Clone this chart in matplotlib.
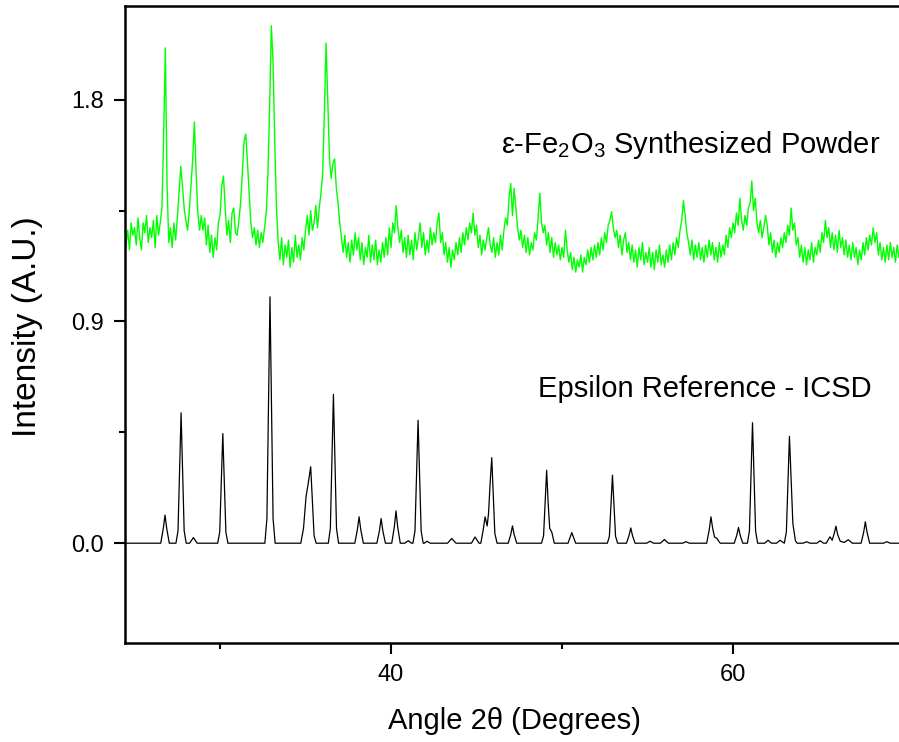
import numpy as np
import matplotlib
matplotlib.use("Agg")
import matplotlib.pyplot as plt
from matplotlib.ticker import FixedLocator, FormatStrFormatter

plt.rcParams['font.family'] = ['Liberation Sans', 'DejaVu Sans']
plt.rcParams['mathtext.fontset'] = 'custom'
plt.rcParams['mathtext.rm'] = 'Liberation Sans'
plt.rcParams['mathtext.it'] = 'Liberation Sans:italic'
plt.rcParams['mathtext.bf'] = 'Liberation Sans:bold'

# ---------------- data ----------------
# Synthesized powder: intensity sampled every 0.1 deg starting at 24.0 deg
powder_start = 24.0
powder_step = 0.1
powder_intensity = [
    1.26, 1.31, 1.22, 1.29, 1.33, 1.21, 1.27, 1.19, 1.30, 1.25,   # 24
    1.28, 1.21, 1.32, 1.24, 1.19, 1.30, 1.26, 1.33, 1.22, 1.28,   # 25
    1.24, 1.31, 1.20, 1.33, 1.25, 1.30, 1.36, 1.65, 2.01, 1.45,   # 26
    1.22, 1.28, 1.20, 1.30, 1.23, 1.32, 1.42, 1.53, 1.45, 1.36,   # 27
    1.31, 1.27, 1.35, 1.45, 1.56, 1.71, 1.50, 1.34, 1.27, 1.33,   # 28
    1.27, 1.32, 1.21, 1.29, 1.18, 1.25, 1.16, 1.24, 1.19, 1.30,   # 29
    1.33, 1.45, 1.49, 1.36, 1.25, 1.31, 1.22, 1.34, 1.36, 1.26,   # 30
    1.25, 1.31, 1.38, 1.50, 1.63, 1.66, 1.55, 1.42, 1.30, 1.24,   # 31
    1.28, 1.21, 1.27, 1.20, 1.26, 1.22, 1.28, 1.34, 1.50, 1.78,   # 32
    2.10, 1.95, 1.62, 1.36, 1.22, 1.15, 1.24, 1.13, 1.21, 1.16,   # 33
    1.23, 1.12, 1.20, 1.14, 1.25, 1.16, 1.21, 1.15, 1.24, 1.19,   # 34
    1.27, 1.33, 1.25, 1.35, 1.27, 1.30, 1.37, 1.28, 1.36, 1.42,   # 35
    1.50, 1.74, 2.03, 1.80, 1.56, 1.48, 1.54, 1.56, 1.44, 1.38,   # 36
    1.30, 1.24, 1.18, 1.25, 1.16, 1.22, 1.14, 1.23, 1.17, 1.26,   # 37
    1.19, 1.24, 1.15, 1.22, 1.13, 1.20, 1.16, 1.25, 1.14, 1.21,   # 38
    1.15, 1.23, 1.13, 1.19, 1.14, 1.22, 1.16, 1.24, 1.17, 1.28,   # 39
    1.20, 1.30, 1.26, 1.37, 1.28, 1.22, 1.27, 1.18, 1.24, 1.16,   # 40
    1.25, 1.17, 1.23, 1.15, 1.26, 1.19, 1.24, 1.30, 1.20, 1.26,   # 41
    1.17, 1.23, 1.18, 1.28, 1.21, 1.26, 1.22, 1.30, 1.34, 1.22,   # 42
    1.26, 1.17, 1.22, 1.14, 1.20, 1.12, 1.19, 1.15, 1.22, 1.17,   # 43
    1.24, 1.18, 1.26, 1.21, 1.28, 1.23, 1.30, 1.26, 1.34, 1.25,   # 44
    1.29, 1.20, 1.25, 1.17, 1.23, 1.19, 1.24, 1.28, 1.21, 1.18,   # 45
    1.24, 1.16, 1.22, 1.17, 1.25, 1.19, 1.27, 1.32, 1.29, 1.40,   # 46
    1.46, 1.33, 1.44, 1.36, 1.28, 1.23, 1.27, 1.20, 1.25, 1.18,   # 47
    1.24, 1.17, 1.22, 1.19, 1.26, 1.23, 1.32, 1.42, 1.30, 1.26,   # 48
    1.29, 1.21, 1.26, 1.18, 1.24, 1.16, 1.22, 1.17, 1.21, 1.15,   # 49
    1.20, 1.16, 1.27, 1.19, 1.14, 1.18, 1.11, 1.16, 1.10, 1.15,   # 50
    1.12, 1.17, 1.10, 1.16, 1.13, 1.19, 1.14, 1.20, 1.15, 1.21,   # 51
    1.16, 1.22, 1.17, 1.24, 1.19, 1.26, 1.22, 1.29, 1.31, 1.345,  # 52
    1.28, 1.24, 1.27, 1.20, 1.25, 1.17, 1.23, 1.26, 1.18, 1.22,   # 53
    1.15, 1.21, 1.14, 1.19, 1.12, 1.20, 1.15, 1.22, 1.13, 1.18,   # 54
    1.14, 1.20, 1.12, 1.18, 1.11, 1.19, 1.14, 1.21, 1.13, 1.17,   # 55
    1.12, 1.19, 1.14, 1.21, 1.15, 1.22, 1.17, 1.24, 1.20, 1.27,   # 56
    1.31, 1.39, 1.33, 1.26, 1.22, 1.17, 1.23, 1.15, 1.21, 1.16,   # 57
    1.22, 1.15, 1.20, 1.14, 1.21, 1.16, 1.23, 1.17, 1.22, 1.15,   # 58
    1.20, 1.14, 1.22, 1.16, 1.21, 1.17, 1.25, 1.20, 1.28, 1.24,   # 59
    1.30, 1.26, 1.34, 1.29, 1.40, 1.31, 1.27, 1.33, 1.29, 1.36,   # 60
    1.38, 1.47, 1.35, 1.40, 1.30, 1.26, 1.31, 1.24, 1.28, 1.33,   # 61
    1.29, 1.21, 1.26, 1.18, 1.23, 1.16, 1.22, 1.18, 1.24, 1.20,   # 62
    1.26, 1.22, 1.29, 1.25, 1.36, 1.27, 1.30, 1.21, 1.24, 1.16,   # 63
    1.21, 1.14, 1.20, 1.13, 1.19, 1.15, 1.22, 1.14, 1.20, 1.17,   # 64
    1.23, 1.18, 1.26, 1.22, 1.31, 1.24, 1.28, 1.20, 1.26, 1.19,   # 65
    1.25, 1.18, 1.27, 1.20, 1.24, 1.17, 1.23, 1.16, 1.21, 1.15,   # 66
    1.22, 1.16, 1.20, 1.13, 1.19, 1.15, 1.22, 1.17, 1.24, 1.19,   # 67
    1.25, 1.21, 1.28, 1.22, 1.26, 1.17, 1.22, 1.15, 1.20, 1.14,   # 68
    1.21, 1.15, 1.22, 1.16, 1.20, 1.14, 1.21, 1.16, 1.22, 1.17,   # 69
]

# ICSD epsilon reference pattern, traced points (angle, intensity)
ref_trace = [
    (24.40, 0.0),
    (26.53, 0.0), (26.68, 0.06), (26.78, 0.114), (26.88, 0.06), (27.03, 0.0),
    (27.42, 0.0), (27.54, 0.05), (27.63, 0.29), (27.72, 0.529), (27.81, 0.29), (27.90, 0.05), (28.02, 0.0),
    (28.22, 0.0), (28.44, 0.023), (28.66, 0.0),
    (29.86, 0.0), (29.98, 0.045), (30.07, 0.245), (30.16, 0.445), (30.25, 0.245), (30.34, 0.045), (30.46, 0.0),
    (32.62, 0.0), (32.74, 0.10), (32.83, 0.55), (32.92, 1.0), (33.01, 0.55), (33.10, 0.10), (33.22, 0.0),
    (34.72, 0.0), (34.88, 0.06), (35.03, 0.19), (35.15, 0.24), (35.30, 0.31), (35.40, 0.17), (35.50, 0.03), (35.62, 0.0),
    (36.33, 0.0), (36.45, 0.06), (36.54, 0.33), (36.63, 0.604), (36.72, 0.33), (36.81, 0.06), (36.93, 0.0),
    (37.88, 0.0), (38.03, 0.055), (38.13, 0.107), (38.23, 0.055), (38.38, 0.0),
    (39.17, 0.0), (39.32, 0.05), (39.42, 0.10), (39.52, 0.05), (39.67, 0.0),
    (40.04, 0.0), (40.19, 0.065), (40.29, 0.131), (40.39, 0.065), (40.54, 0.0),
    (40.80, 0.0), (41.01, 0.01), (41.20, 0.0),
    (41.28, 0.0), (41.40, 0.05), (41.49, 0.27), (41.58, 0.499), (41.67, 0.27), (41.76, 0.05), (41.88, 0.0),
    (41.95, 0.0), (42.09, 0.008), (42.30, 0.0),
    (43.30, 0.0), (43.55, 0.019), (43.80, 0.0),
    (44.70, 0.0), (44.91, 0.025), (45.15, 0.0),
    (45.25, 0.0), (45.38, 0.05), (45.50, 0.107), (45.62, 0.07), (45.70, 0.12), (45.80, 0.25), (45.89, 0.347),
    (45.98, 0.19), (46.07, 0.04), (46.20, 0.0),
    (46.85, 0.0), (47.00, 0.035), (47.10, 0.07), (47.20, 0.035), (47.35, 0.0),
    (48.80, 0.0), (48.92, 0.03), (49.01, 0.16), (49.10, 0.296), (49.19, 0.16), (49.28, 0.06), (49.40, 0.045), (49.55, 0.0),
    (50.35, 0.0), (50.57, 0.043), (50.80, 0.0),
    (52.65, 0.0), (52.77, 0.028), (52.86, 0.15), (52.95, 0.276), (53.04, 0.15), (53.13, 0.028), (53.25, 0.0),
    (53.77, 0.0), (53.92, 0.031), (54.02, 0.062), (54.12, 0.031), (54.27, 0.0),
    (54.95, 0.0), (55.15, 0.008), (55.35, 0.0),
    (55.75, 0.0), (55.99, 0.015), (56.22, 0.0),
    (57.05, 0.0), (57.25, 0.006), (57.45, 0.0),
    (58.46, 0.0), (58.61, 0.055), (58.71, 0.107), (58.81, 0.06), (58.92, 0.025), (59.05, 0.02), (59.25, 0.0),
    (60.07, 0.0), (60.22, 0.032), (60.32, 0.064), (60.42, 0.032), (60.57, 0.0),
    (60.84, 0.0), (60.96, 0.05), (61.05, 0.27), (61.14, 0.489), (61.23, 0.27), (61.32, 0.05), (61.44, 0.0),
    (61.85, 0.0), (62.05, 0.012), (62.25, 0.0),
    (62.55, 0.0), (62.75, 0.012), (62.95, 0.002),
    (63.00, 0.0), (63.12, 0.045), (63.21, 0.24), (63.30, 0.434), (63.40, 0.26), (63.50, 0.08), (63.65, 0.01), (63.75, 0.0),
    (64.10, 0.0), (64.31, 0.006), (64.50, 0.0),
    (64.90, 0.0), (65.09, 0.01), (65.30, 0.0),
    (65.45, 0.0), (65.67, 0.026), (65.80, 0.012), (65.92, 0.04), (66.02, 0.069), (66.12, 0.035), (66.27, 0.008),
    (66.50, 0.003), (66.74, 0.014), (66.98, 0.0),
    (67.49, 0.0), (67.64, 0.044), (67.74, 0.087), (67.84, 0.044), (67.99, 0.0),
    (68.80, 0.0), (68.99, 0.006), (69.20, 0.0),
    (70.00, 0.0),
]

x_major_ticks = [40, 60]
x_minor_ticks = [30, 50, 70]
y_major_ticks = [0.0, 0.9, 1.8]
y_minor_ticks = [0.45, 1.35]

powder_label = 'ε-Fe$_2$O$_3$ Synthesized Powder'
reference_label = 'Epsilon Reference - ICSD'
x_label = 'Angle 2θ (Degrees)'
y_label = 'Intensity (A.U.)'

# ---------------- plot ----------------
powder_angle = np.round(powder_start + powder_step * np.arange(len(powder_intensity)), 2)
ref_angle = np.array([p[0] for p in ref_trace])
ref_intensity = np.array([p[1] for p in ref_trace])

fig = plt.figure(figsize=(8.99, 7.42), dpi=100)
ax = fig.add_axes([125 / 899, 99 / 742, 779 / 899, 637 / 742])

ax.plot(powder_angle, powder_intensity, color='#00ff00', lw=1.0)
ax.plot(ref_angle, ref_intensity, color='black', lw=0.9)

ax.set_xlim(24.44, 70.0)
ax.set_ylim(-0.405, 2.18)

ax.xaxis.set_major_locator(FixedLocator(x_major_ticks))
ax.xaxis.set_minor_locator(FixedLocator(x_minor_ticks))
ax.yaxis.set_major_locator(FixedLocator(y_major_ticks))
ax.yaxis.set_minor_locator(FixedLocator(y_minor_ticks))
ax.yaxis.set_major_formatter(FormatStrFormatter('%.1f'))

ax.tick_params(which='major', direction='out', length=8, width=1.5,
               labelsize=17, pad=7, colors='black')
ax.tick_params(which='minor', direction='out', length=4.5, width=1.5)
ax.tick_params(top=False, right=False)
for s in ax.spines.values():
    s.set_linewidth(1.8)

ax.text(68.6, 1.583, powder_label, ha='right', va='baseline', fontsize=21)
ax.text(68.13, 0.593, reference_label, ha='right', va='baseline', fontsize=21)

ax.set_xlabel(x_label, fontsize=21)
ax.set_ylabel(y_label, fontsize=24)
ax.xaxis.set_label_coords(0.5, -0.100)
ax.yaxis.set_label_coords(-0.105, 0.497)

fig.savefig('out.png', dpi=100)
